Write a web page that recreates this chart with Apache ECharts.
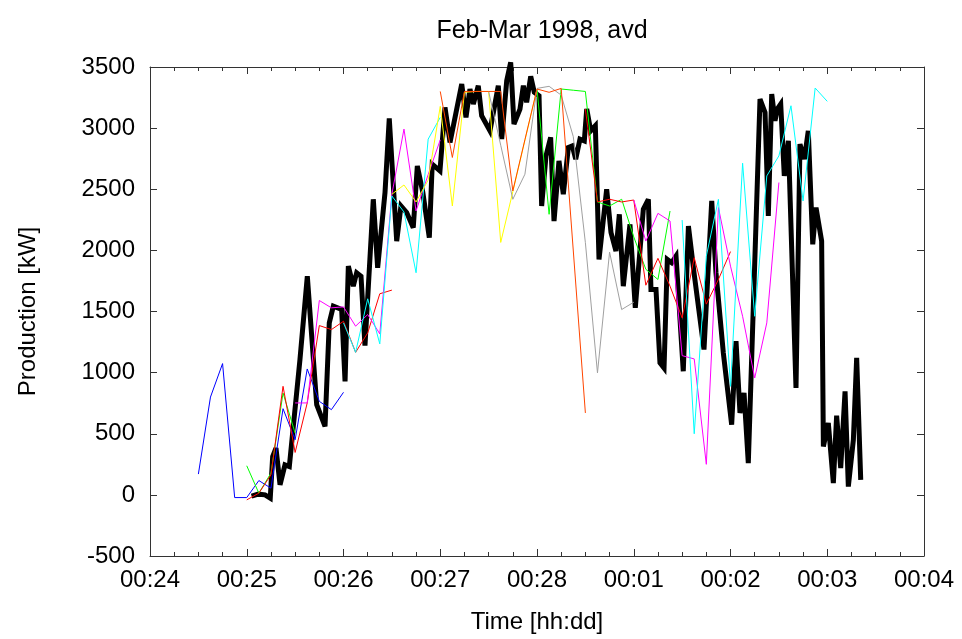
<!DOCTYPE html>
<html>
<head>
<meta charset="utf-8">
<title>Feb-Mar 1998, avd</title>
<script src="https://cdn.jsdelivr.net/npm/echarts@6/dist/echarts.min.js"></script>
<style>
  html, body { margin: 0; padding: 0; background: #fff; }
  #chart { width: 962px; height: 639px; }
</style>
</head>
<body>
<div id="chart"></div>
<script>
// tick labels of the time axis (one per major tick, 0..8)
const timeLabels = ['00:24', '00:25', '00:26', '00:27', '00:28', '00:01', '00:02', '00:03', '00:04'];

// production [kW], [time position, value]
const avd = [
  [1.05, -10], [1.119, 6], [1.189, 0], [1.243, -27], [1.268, 314], [1.302, 383], [1.344, 82],
  [1.395, 246], [1.44, 232], [1.55, 1107], [1.626, 1789], [1.723, 738], [1.809, 560], [1.853, 1407],
  [1.895, 1543], [1.981, 1516], [2.016, 929], [2.05, 1871], [2.101, 1707], [2.136, 1817], [2.181, 1789],
  [2.222, 1221], [2.308, 2418], [2.353, 1858], [2.429, 2473], [2.473, 3079], [2.55, 2076], [2.594, 2363],
  [2.653, 2309], [2.721, 2186], [2.763, 2691], [2.82, 2473], [2.887, 2104], [2.917, 2705], [2.997, 2650],
  [3.049, 3170], [3.101, 2883], [3.222, 3361], [3.266, 3088], [3.307, 3320], [3.342, 3197], [3.393, 3347],
  [3.428, 3101], [3.514, 2978], [3.6, 3347], [3.635, 2910], [3.687, 3388], [3.728, 3538], [3.762, 3033],
  [3.824, 3156], [3.859, 3347], [3.893, 3211], [3.935, 3424], [3.972, 3293], [4.021, 3265], [4.048, 2363],
  [4.093, 2773], [4.141, 2924], [4.176, 2240], [4.227, 2732], [4.272, 2459], [4.324, 2842], [4.365, 2855],
  [4.4, 2746], [4.444, 2910], [4.489, 2896], [4.514, 3156], [4.555, 2978], [4.603, 3019], [4.641, 1926],
  [4.72, 2500], [4.765, 2145], [4.816, 1994], [4.851, 2295], [4.892, 1707], [4.961, 2213], [5.016, 1530],
  [5.099, 2336], [5.151, 2418], [5.178, 1680], [5.23, 1680], [5.271, 1080], [5.313, 1038], [5.347, 1926],
  [5.392, 1899], [5.437, 1953], [5.512, 1011], [5.565, 2199], [5.623, 1817], [5.726, 1189], [5.806, 2404],
  [5.85, 1817], [5.926, 1161], [6.012, 574], [6.057, 1257], [6.098, 670], [6.14, 834], [6.184, 260],
  [6.305, 3238], [6.357, 3128], [6.391, 2281], [6.426, 3279], [6.46, 3060], [6.484, 3156], [6.519, 3197],
  [6.556, 2609], [6.598, 2896], [6.677, 875], [6.718, 2869], [6.763, 2746], [6.804, 2978], [6.85, 2049],
  [6.884, 2350], [6.942, 2076], [6.96, 396], [7.011, 588], [7.063, 96], [7.097, 648], [7.139, 219],
  [7.184, 847], [7.218, 68], [7.27, 451], [7.304, 1120], [7.346, 123]
];

const blue1 = [
  [0.5, 170], [0.625, 800], [0.75, 1074], [0.875, -22], [1.0, -22], [1.125, 117], [1.25, 55],
  [1.375, 705], [1.5, 451], [1.625, 1030], [1.75, 765], [1.875, 697], [2.0, 839]
];

const green1 = [[1.0, 238], [1.125, 14], [1.25, 178], [1.375, 833], [1.5, 505]];
const green2 = [
  [4.0, 3320], [4.125, 2295], [4.25, 3320], [4.375, 3310], [4.5, 3300], [4.625, 2396], [4.75, 2363],
  [4.875, 2418], [5.0, 2110], [5.125, 1845], [5.25, 1762], [5.375, 2322]
];

const red1 = [
  [1.0, -41], [1.125, 14], [1.25, 164], [1.375, 888], [1.5, 347], [1.625, 752], [1.75, 1385],
  [1.875, 1352], [2.0, 1420], [2.125, 1166], [2.25, 1325], [2.375, 1645], [2.5, 1675]
];
const red2 = [
  [4.5, 3156], [4.625, 2396], [4.75, 2418], [4.875, 2396], [5.0, 2412], [5.125, 1715], [5.25, 1935],
  [5.375, 1707], [5.5, 1448], [5.625, 1940], [5.75, 1560], [5.875, 1762], [6.0, 1990]
];

const magenta1 = [
  [1.5, 752], [1.625, 752], [1.75, 1590], [1.875, 1530], [2.0, 1538], [2.125, 1380], [2.25, 1475],
  [2.375, 1317], [2.5, 2459], [2.625, 2992], [2.75, 2322], [2.875, 2620], [3.0, 2904]
];
const magenta2 = [
  [5.0, 2412], [5.125, 2076], [5.25, 2303], [5.375, 2240], [5.5, 1139], [5.625, 1112], [5.75, 250],
  [5.875, 2350], [6.0, 1871], [6.125, 1461], [6.25, 956], [6.375, 1407], [6.5, 2555]
];

const cyan1 = [
  [2.0, 1407], [2.125, 1166], [2.25, 1604], [2.375, 1235], [2.5, 2445], [2.625, 2314], [2.75, 1817],
  [2.875, 2910], [3.0, 3088]
];
const cyan2 = [
  [5.5, 2248], [5.625, 500], [5.75, 1953], [5.875, 2418], [6.0, 888], [6.125, 2713], [6.25, 1461],
  [6.375, 2609], [6.5, 2773], [6.625, 3183], [6.75, 2404], [6.875, 3328], [7.0, 3219]
];

const yellow1 = [
  [2.5, 2459], [2.625, 2535], [2.75, 2396], [2.875, 2575], [3.0, 3178], [3.125, 2363], [3.25, 3293],
  [3.375, 3300], [3.5, 3300], [3.625, 2065], [3.75, 2480], [3.875, 2900], [4.0, 3320]
];

const gray1 = [
  [3.5, 3300], [3.625, 2860], [3.75, 2418], [3.875, 2623], [4.0, 3325], [4.125, 3342], [4.25, 3270],
  [4.375, 2930], [4.5, 2063], [4.625, 998], [4.75, 1986], [4.875, 1516], [5.0, 1576]
];

const orange1 = [
  [3.0, 3300], [3.125, 2760], [3.25, 3300], [3.375, 3300], [3.5, 3300], [3.625, 3300], [3.75, 2486],
  [3.875, 2905], [4.0, 3320], [4.125, 3293], [4.25, 3325], [4.5, 670]
];

const FONT = '"Liberation Sans", Arial, sans-serif';
const AXIS_COLOR = '#333';

function thin(data, color) {
  return {
    type: 'line',
    data: data,
    symbol: 'none',
    showSymbol: false,
    clip: false,
    lineStyle: { width: 1, color: color },
    emphasis: { disabled: true }
  };
}

let chart = echarts.init(document.getElementById('chart'));

const xCommon = {
  type: 'value',
  min: 0,
  max: 8,
  interval: 1,
  axisLine: { show: true, onZero: false, lineStyle: { color: AXIS_COLOR, width: 1 } },
  axisTick: { show: true, inside: true, length: 7, lineStyle: { color: AXIS_COLOR } },
  minorTick: { show: true, splitNumber: 4, length: 4, lineStyle: { color: AXIS_COLOR } },
  splitLine: { show: false }
};
const yCommon = {
  type: 'value',
  min: -500,
  max: 3500,
  interval: 500,
  axisLine: { show: true, onZero: false, lineStyle: { color: AXIS_COLOR, width: 1 } },
  axisTick: { show: true, inside: true, length: 7, lineStyle: { color: AXIS_COLOR } },
  splitLine: { show: false }
};

chart.setOption({
  animation: false,
  backgroundColor: '#fff',
  title: {
    text: 'Feb-Mar 1998, avd',
    left: 537,
    top: 14,
    textAlign: 'center',
    textStyle: { fontFamily: FONT, fontSize: 25, fontWeight: 'normal', color: '#000' }
  },
  grid: { left: 150, right: 38, top: 67, bottom: 83, containLabel: false },
  xAxis: [
    Object.assign({}, xCommon, {
      position: 'bottom',
      name: 'Time [hh:dd]',
      nameLocation: 'middle',
      nameGap: 54,
      nameTextStyle: { fontFamily: FONT, fontSize: 24, color: '#000' },
      axisLabel: {
        margin: 12,
        fontFamily: FONT,
        fontSize: 24,
        color: '#000',
        formatter: function (value) {
          return timeLabels[Math.round(value)];
        }
      }
    }),
    Object.assign({}, xCommon, { position: 'top', axisLabel: { show: false } })
  ],
  yAxis: [
    Object.assign({}, yCommon, {
      position: 'left',
      name: 'Production [kW]',
      nameLocation: 'middle',
      nameGap: 110,
      nameTextStyle: { fontFamily: FONT, fontSize: 24, color: '#000' },
      axisLabel: {
        margin: 15,
        fontFamily: FONT,
        fontSize: 24,
        color: '#000',
        formatter: function (value) {
          return String(value);
        }
      }
    }),
    Object.assign({}, yCommon, { position: 'right', axisLabel: { show: false } })
  ],
  series: [
    {
      type: 'line',
      data: avd,
      symbol: 'none',
      showSymbol: false,
      clip: false,
      lineStyle: { width: 5, color: '#000', join: 'miter', miterLimit: 4 },
      emphasis: { disabled: true }
    },
    thin(blue1, '#0000ff'),
    thin(green1, '#00ff00'),
    thin(green2, '#00ff00'),
    thin(red1, '#ff0000'),
    thin(red2, '#ff0000'),
    thin(magenta1, '#ff00ff'),
    thin(magenta2, '#ff00ff'),
    thin(cyan1, '#00ffff'),
    thin(cyan2, '#00ffff'),
    thin(yellow1, '#ffff00'),
    thin(gray1, '#a0a0a0'),
    thin(orange1, '#ff4500')
  ]
});

window.addEventListener('resize', function () {
  chart.resize();
});
</script>
</body>
</html>
